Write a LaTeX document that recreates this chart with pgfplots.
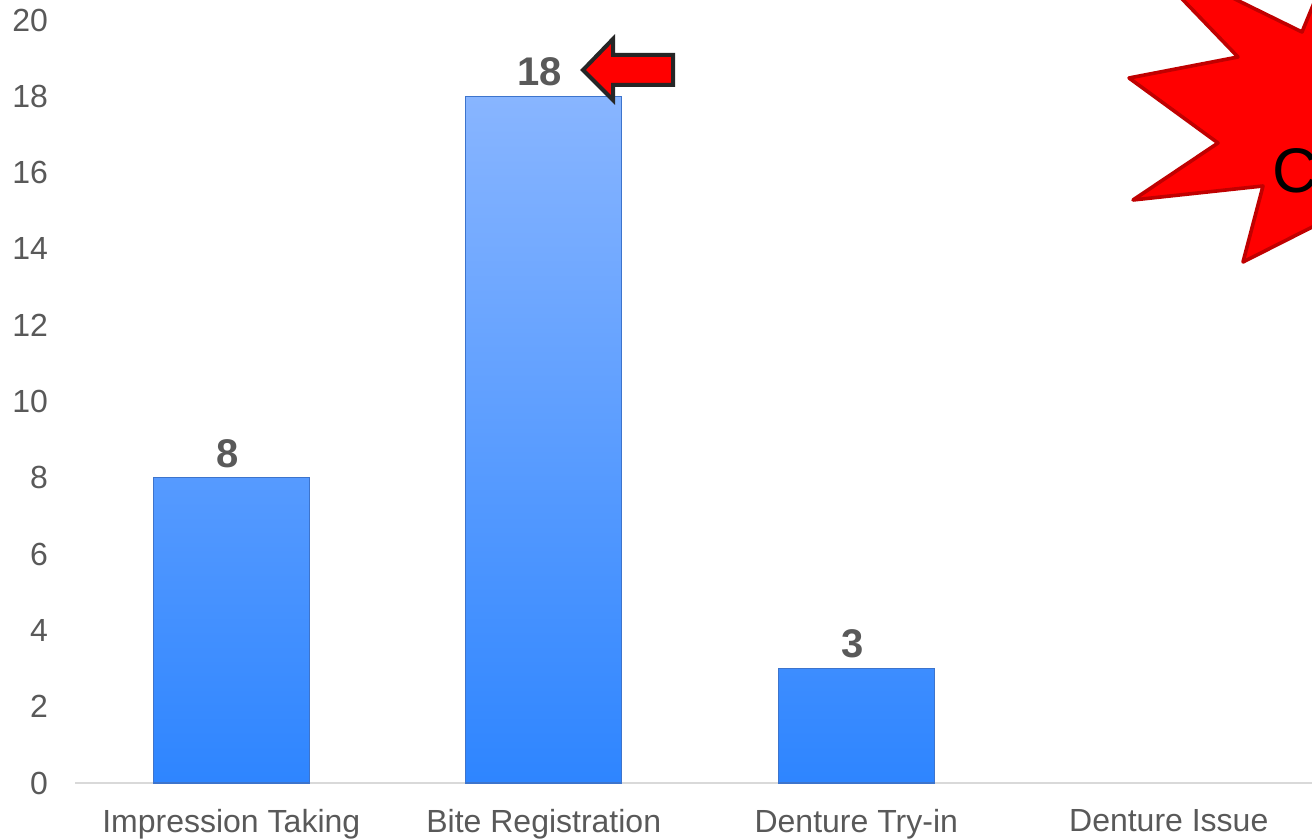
\documentclass[border=0pt]{standalone}
\usepackage{pgfplots}
\pgfplotsset{compat=1.18}
\usepackage{fontspec}
\setmainfont{Liberation Sans}

\definecolor{labelgray}{HTML}{595959}
\definecolor{barTop}{HTML}{88B5FF}
\definecolor{barBottom}{HTML}{2E85FF}
\definecolor{barEdge}{HTML}{3D74CC}
\definecolor{baseline}{HTML}{D9D9D9}
\definecolor{burstRed}{HTML}{FF0000}
\definecolor{burstEdge}{HTML}{C00000}
\definecolor{arrowEdge}{HTML}{262626}

\begin{document}
\begin{tikzpicture}
  % page frame: 656pt x 420pt
  \path[use as bounding box] (0,0) rectangle (656pt,420pt);
  \clip (0,0) rectangle (656pt,420pt);

  \begin{axis}[
    at={(37.5pt,28.5pt)}, anchor=south west,
    scale only axis, width=625pt, height=381.5pt,
    xmin=-0.5, xmax=3.5, ymin=0, ymax=20,
    xtick={0,1,2,3},
    xticklabels={Impression Taking, Bite Registration, Denture Try-in, Denture Issue},
    ytick={0,2,...,20},
    axis x line*=bottom, axis y line*=left,
    x axis line style={draw=baseline, line width=1pt},
    y axis line style={draw=none},
    major tick length=0pt,
    /pgf/number format/assume math mode=true,
    tick label style={font=\fontsize{16}{19}\selectfont, text=labelgray},
    yticklabel style={xshift=-10pt},
    xticklabel style={yshift=-9.5pt},
    clip=false,
  ]
    \addplot[ybar, bar width=78pt,
      top color=barTop, bottom color=barBottom,
      draw=barEdge, line width=0.6pt,
      nodes near coords,
      nodes near coords style={font=\bfseries\fontsize{20}{24}\selectfont,
        text=labelgray, anchor=south, yshift=1.5pt, xshift=-2pt}]
      coordinates {(0,8) (1,18) (2,3)};
  \end{axis}

  % annotations, in a top-left based frame of 0.5pt units
  \begin{scope}[x=0.5pt, y=-0.5pt, yshift=420pt]
    % burst
    \filldraw[fill=burstRed, draw=burstEdge, line width=1.8pt, line join=round]
      (1135,-50) -- (1238,57) -- (1129,78) -- (1218,143) -- (1133,200)
      -- (1263,186) -- (1243,262) -- (1340,213) -- (1400,320)
      -- (1460,200) -- (1500,60) -- (1420,-10) -- (1340,-60)
      -- (1302,32) -- cycle;
    \node[anchor=west, text=black, inner sep=0pt,
      font=\fontsize{31.5}{36}\selectfont] at (1272,171) {C};
    % arrow pointing at the tallest bar's label
    \filldraw[fill=burstRed, draw=arrowEdge, line width=2pt, line join=miter]
      (583,70) -- (613,39) -- (613,55) -- (673,55) -- (673,85)
      -- (613,85) -- (613,100) -- cycle;
  \end{scope}
\end{tikzpicture}
\end{document}
